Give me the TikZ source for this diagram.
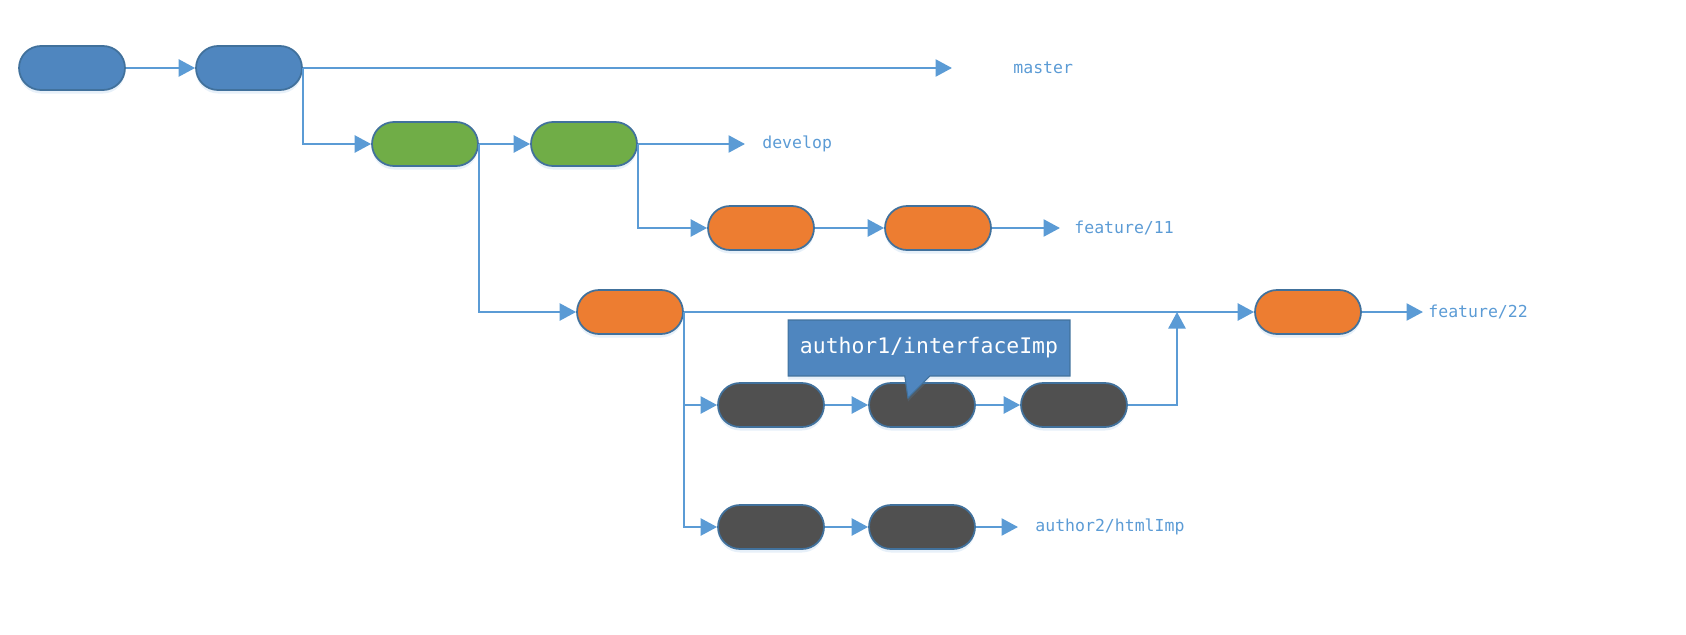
\documentclass[tikz,border=0pt]{standalone}
\usepackage{fontspec}
\setmonofont{DejaVu Sans Mono}
\usetikzlibrary{arrows.meta,shapes.callouts,shadows}
\definecolor{lineblue}{HTML}{5B9BD5}
\definecolor{edgeblue}{HTML}{41719C}
\definecolor{masterblue}{HTML}{4F86BF}
\definecolor{devgreen}{HTML}{70AD47}
\definecolor{featorange}{HTML}{ED7D31}
\definecolor{workgray}{HTML}{505050}

\begin{document}
\begin{tikzpicture}[x=0.02cm, y=-0.02cm,
  commit/.style={rectangle, rounded corners=0.44cm, minimum width=2.12cm, minimum height=0.88cm,
    draw=edgeblue, line width=1pt, drop shadow={shadow xshift=0pt, shadow yshift=-2pt, fill=lineblue, opacity=0.15}},
  flow/.style={draw=lineblue, line width=1.45pt, -{Triangle[length=0.33cm, width=0.34cm]}},
  branch/.style={anchor=west, inner sep=0pt, text=lineblue, font=\ttfamily\fontsize{9.4}{11}\selectfont}]
  \useasboundingbox (0,0) rectangle (1686,635);
  % master
  \node[commit, fill=masterblue] (m1) at (72,68) {};
  \node[commit, fill=masterblue] (m2) at (249,68) {};
  \coordinate (masterend) at (952,68);
  \node[branch] (master) at (1013,68) {master};
  % develop
  \node[commit, fill=devgreen] (d1) at (425,144) {};
  \node[commit, fill=devgreen] (d2) at (584,144) {};
  \coordinate (developend) at (745,144);
  \node[branch] (develop) at (762,144) {develop};
  % feature/11
  \node[commit, fill=featorange] (fa1) at (761,228) {};
  \node[commit, fill=featorange] (fa2) at (938,228) {};
  \coordinate (fa11end) at (1060,228);
  \node[branch] (fa11) at (1074,228) {feature/11};
  % feature/22
  \node[commit, fill=featorange] (fb1) at (630,312) {};
  \node[commit, fill=featorange] (fb2) at (1308,312) {};
  \coordinate (fb22end) at (1423,312);
  \node[branch] (fb22) at (1428,312) {feature/22};
  % author1 / author2
  \node[commit, fill=workgray] (a1) at (771,405) {};
  \node[commit, fill=workgray] (b1) at (922,405) {};
  \node[commit, fill=workgray] (c1) at (1074,405) {};
  \coordinate (merge) at (1177,312);
  \node[commit, fill=workgray] (a2) at (771,527) {};
  \node[commit, fill=workgray] (b2) at (922,527) {};
  \coordinate (a2end) at (1018,527);
  \node[branch] (author2) at (1035,527) {author2/htmlImp};

  \draw[flow] (m1) -- (m2);
  \draw[flow] (m2) -- (masterend);
  \draw[flow] (m2.east) |- (d1.west);
  \draw[flow] (d1) -- (d2);
  \draw[flow] (d2) -- (developend);
  \draw[flow] (d2.east) |- (fa1.west);
  \draw[flow] (fa1) -- (fa2);
  \draw[flow] (fa2) -- (fa11end);
  \draw[flow] (d1.east) |- (fb1.west);
  \draw[flow] (fb1) -- (fb2);
  \draw[flow] (fb2) -- (fb22end);
  \draw[flow] (fb1.east) |- (a1.west);
  \draw[flow] (fb1.east) |- (a2.west);
  \draw[flow] (a1) -- (b1);
  \draw[flow] (b1) -- (c1);
  \draw[flow] (c1.east) -| (merge);
  \draw[flow] (a2) -- (b2);
  \draw[flow] (b2) -- (a2end);

  \node[rectangle callout, fill=masterblue, draw=edgeblue, line width=0.6pt,
    minimum width=5.64cm, minimum height=1.12cm, text=white,
    font=\ttfamily\fontsize{12.2}{14}\selectfont,
    callout absolute pointer={(908,398)}, callout pointer width=0.5cm,
    drop shadow={shadow xshift=0pt, shadow yshift=-2pt, fill=lineblue, opacity=0.15}] (note) at (929,348) {author1/interfaceImp};
\end{tikzpicture}
\end{document}
